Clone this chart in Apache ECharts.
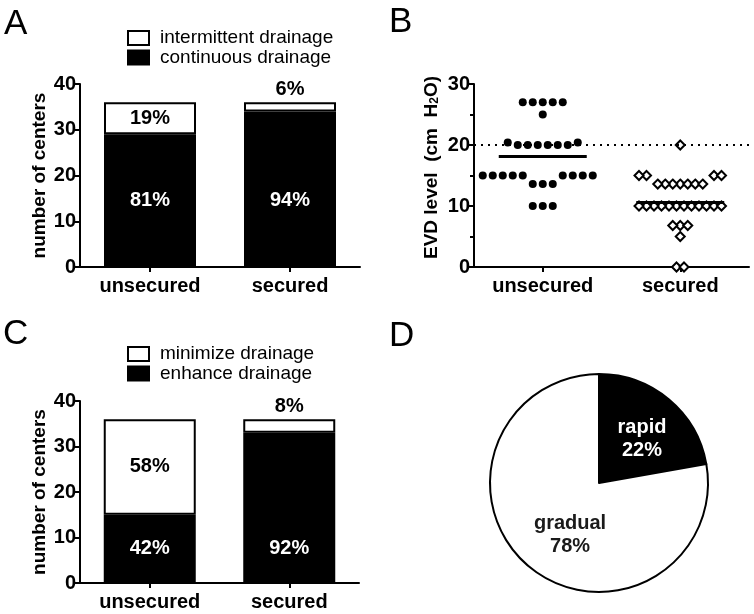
<!DOCTYPE html>
<html><head><meta charset="utf-8">
<script src="https://cdn.jsdelivr.net/npm/echarts@6/dist/echarts.min.js"></script>
<style>html,body{margin:0;padding:0;background:#fff}#c{width:754px;height:614px}</style>
</head><body><div id="c"></div><script>
// ---------- DATA ----------
const groups = ['unsecured', 'secured'];
// Panel A (number of centers)
const aNames = ['intermittent drainage', 'continuous drainage'];
const aIntermittent = [7, 2];
const aContinuous = [29, 34];
// Panel C (number of centers)
const cNames = ['minimize drainage', 'enhance drainage'];
const cMinimize = [21, 3];
const cEnhance = [15, 33];
// Panel B (EVD level, cm H2O)
const bUnsecured = [27, 27, 27, 27, 27, 25, 20.4, 20.4, 20, 20, 20, 20, 20, 20,
  15, 15, 15, 15, 15, 15, 15, 15, 15, 13.6, 13.6, 13.6, 10, 10, 10];
const bSecured = [20, 15, 15, 15, 15, 13.6, 13.6, 13.6, 13.6, 13.6, 13.6, 13.6,
  10, 10, 10, 10, 10, 10, 10, 10, 10, 10, 10, 10, 6.8, 6.8, 6.8, 5, 0, 0];
const bThreshold = 20;
// Panel D
const dNames = ['rapid', 'gradual'];
const dValues = [8, 28];
// Axis ticks
const acTicks = { min: 0, max: 40, interval: 10 };
const bTicks = { min: 0, max: 30, interval: 10 };

// ---------- LAYOUT / STYLE ----------
const FONT = "'Liberation Sans', Arial, Helvetica, sans-serif";
const gA = { left: 80, top: 84, width: 280, height: 183 };
const gB = { left: 474, top: 84, width: 275, height: 183 };
const gC = { left: 80, top: 401, width: 279, height: 182 };
const BLACK = '#000';

function axisBase() {
  return {
    axisLine: { show: true, lineStyle: { color: BLACK, width: 2 } },
    axisTick: { show: true, length: 5, lineStyle: { color: BLACK, width: 2 } },
    axisLabel: { color: BLACK, fontSize: 20, fontWeight: 'bold', fontFamily: FONT },
    splitLine: { show: false }
  };
}
function catAxis(grid) {
  const a = axisBase();
  return Object.assign(a, {
    type: 'category', gridIndex: grid, data: groups, boundaryGap: true,
    axisTick: Object.assign(a.axisTick, { alignWithLabel: true }),
    axisLabel: Object.assign(a.axisLabel, { margin: 9 })
  });
}
function valAxis(grid, t, name, gap, pad) {
  const a = axisBase();
  return Object.assign(a, {
    type: 'value', gridIndex: grid, min: t.min, max: t.max, interval: t.interval,
    name: name, nameLocation: 'middle', nameGap: gap, nameRotate: 90,
    nameTextStyle: { color: BLACK, fontSize: 19, fontWeight: 'bold', fontFamily: FONT,
      padding: pad || 0,
      rich: {
        n: { fontSize: 19, lineHeight: 19, fontWeight: 'bold', fontFamily: FONT, color: BLACK },
        sub: { fontSize: 12, lineHeight: 12, fontWeight: 'bold', fontFamily: FONT, color: BLACK,
          verticalAlign: 'bottom', padding: [14, 0, 0, 0] }
      } },
    axisLabel: Object.assign(a.axisLabel, { margin: 4 })
  });
}

const pct = (v, tot) => Math.round(v / tot * 100) + '%';
const labelFont = { fontSize: 20, fontWeight: 'bold', fontFamily: FONT };

function stackSeries(prefix, grid, names, whiteVals, blackVals) {
  const totals = whiteVals.map((w, i) => w + blackVals[i]);
  const blackLabelY = Math.min.apply(null, blackVals) / 2;
  return [
    {
      type: 'bar', name: names[1], xAxisIndex: grid.x, yAxisIndex: grid.y, stack: prefix,
      barWidth: 92, data: blackVals,
      itemStyle: { color: BLACK, borderColor: BLACK, borderWidth: 2 },
      silent: true
    },
    {
      type: 'bar', name: names[0], xAxisIndex: grid.x, yAxisIndex: grid.y, stack: prefix,
      barWidth: 92,
      data: whiteVals.map((w, i) => ({
        value: w,
        label: (w / totals[i] > 0.1)
          ? { show: true, position: 'inside', color: BLACK }
          : { show: true, position: 'top', distance: 3, color: BLACK }
      })),
      label: Object.assign({ formatter: p => pct(p.value, totals[p.dataIndex]) }, labelFont),
      itemStyle: { color: '#fff', borderColor: BLACK, borderWidth: 2 },
      silent: true
    },
    {
      type: 'scatter', xAxisIndex: grid.x, yAxisIndex: grid.y, symbolSize: 0,
      itemStyle: { color: 'rgba(0,0,0,0)', opacity: 1 }, silent: true,
      data: blackVals.map((b, i) => [i, blackLabelY]),
      label: Object.assign({ show: true, position: 'inside', color: '#fff', opacity: 1,
        formatter: p => pct(blackVals[p.dataIndex], totals[p.dataIndex]) }, labelFont)
    }
  ];
}

// beeswarm layout: spreads equal values horizontally, avoiding overlaps
function swarm(values, center, stepPx, collYPx, pxPerX, pxPerY) {
  const uniq = Array.from(new Set(values)).sort((a, b) => a - b);
  const placed = [], out = [];
  uniq.forEach(v => {
    const n = values.filter(x => x === v).length;
    const y = v * pxPerY;
    const cands = [];
    if (n % 2) { cands.push(0); for (let k = 1; k < 80; k++) cands.push(-k, k); }
    else { for (let k = 0; k < 80; k++) cands.push(-(k + 0.5), k + 0.5); }
    for (let i = 0; i < n; i++) {
      for (const c of cands) {
        const dx = c * stepPx;
        if (placed.every(p => Math.abs(p.dx - dx) >= stepPx - 0.01 || Math.abs(p.y - y) >= collYPx)) {
          placed.push({ dx, y }); out.push([center + dx / pxPerX, v]); break;
        }
      }
    }
  });
  return out;
}
const pxX = gB.width / 2, pxY = gB.height / (bTicks.max - bTicks.min);
const mean = a => a.reduce((s, v) => s + v, 0) / a.length;
const halfMean = 0.32;
function meanLine(c, m) {
  return {
    silent: true, symbol: 'none', animation: false,
    label: { show: false }, lineStyle: { color: BLACK, width: 3, type: 'solid', opacity: 1 },
    data: [[{ coord: [c - halfMean, m] }, { coord: [c + halfMean, m] }]]
  };
}

const series = [].concat(
  stackSeries('a', { x: 0, y: 0 }, aNames, aIntermittent, aContinuous),
  stackSeries('c', { x: 3, y: 2 }, cNames, cMinimize, cEnhance),
  [
    {
      type: 'scatter', name: groups[0], xAxisIndex: 2, yAxisIndex: 1, silent: true,
      symbol: 'circle', symbolSize: 8, itemStyle: { color: BLACK, opacity: 1 },
      data: swarm(bUnsecured, 0.5, 10, 10, pxX, pxY),
      markLine: meanLine(0.5, mean(bUnsecured)), z: 3
    },
    {
      type: 'scatter', name: groups[1], xAxisIndex: 2, yAxisIndex: 1, silent: true,
      symbol: 'diamond', symbolSize: 9, itemStyle: { color: '#fff', borderColor: BLACK, borderWidth: 2, opacity: 1 },
      data: swarm(bSecured, 1.5, 7.5, 10, pxX, pxY),
      markLine: meanLine(1.5, mean(bSecured)), z: 3
    },
    {
      type: 'scatter', xAxisIndex: 2, yAxisIndex: 1, data: [], silent: true,
      markLine: {
        silent: true, symbol: 'none', animation: false, label: { show: false },
        lineStyle: { color: BLACK, width: 2, type: [2, 5], opacity: 1 },
        data: [{ yAxis: bThreshold }]
      }, z: 1
    },
    {
      type: 'pie', center: [599, 483], radius: 109, startAngle: 90, clockwise: true,
      percentPrecision: 0, silent: true, animation: false,
      itemStyle: { borderColor: BLACK, borderWidth: 2 },
      label: Object.assign({ show: true, position: 'inside', formatter: '{b}\n{d}%', lineHeight: 23 }, labelFont),
      labelLine: { show: false },
      emphasis: { disabled: true },
      data: dNames.map((n, i) => ({
        name: n, value: dValues[i],
        itemStyle: { color: i === 0 ? BLACK : '#fff' },
        label: { color: i === 0 ? '#fff' : '#1a1a1a', offset: i === 0 ? [6, 0] : [8, 8] }
      }))
    }
  ]
);

const legendBase = {
  orient: 'vertical', left: 127, itemWidth: 21, itemHeight: 14, itemGap: 0.5, padding: 0,
  icon: 'rect', selectedMode: false,
  itemStyle: { borderColor: BLACK, borderWidth: 2 },
  textStyle: { color: BLACK, fontSize: 19, fontFamily: FONT, padding: [0, 0, 0, 6], lineHeight: 19 }
};

const option = {
  animation: false,
  backgroundColor: '#fff',
  grid: [
    Object.assign({ containLabel: false }, gA),
    Object.assign({ containLabel: false }, gB),
    Object.assign({ containLabel: false }, gC)
  ],
  legend: [
    Object.assign({}, legendBase, { top: 28.5, data: aNames }),
    Object.assign({}, legendBase, { top: 344.5, data: cNames })
  ],
  xAxis: [
    catAxis(0),
    catAxis(1),
    { type: 'value', gridIndex: 1, min: 0, max: 2, show: false },
    catAxis(2)
  ],
  yAxis: [
    valAxis(0, acTicks, 'number of centers', 31),
    Object.assign(valAxis(1, bTicks, '{n|EVD level  (cm  H}{sub|2}{n|O)}', 33, [0, 0, 0, 16]),
      { minorTick: { show: true, splitNumber: 2, length: 4, lineStyle: { color: BLACK, width: 2 } } }),
    valAxis(2, acTicks, 'number of centers', 31)
  ],
  series: series,
  graphic: [
    { type: 'text', x: 4, y: 24, style: { text: 'A', fontSize: 35, fontFamily: FONT, fill: BLACK, verticalAlign: 'middle' } },
    { type: 'text', x: 389, y: 22, style: { text: 'B', fontSize: 35, fontFamily: FONT, fill: BLACK, verticalAlign: 'middle' } },
    { type: 'text', x: 3, y: 334, style: { text: 'C', fontSize: 35, fontFamily: FONT, fill: BLACK, verticalAlign: 'middle' } },
    { type: 'text', x: 389, y: 336, style: { text: 'D', fontSize: 35, fontFamily: FONT, fill: BLACK, verticalAlign: 'middle' } }
  ]
};
const chart = echarts.init(document.getElementById('c'), null, { renderer: 'canvas' });
chart.setOption(option);
</script></body></html>
